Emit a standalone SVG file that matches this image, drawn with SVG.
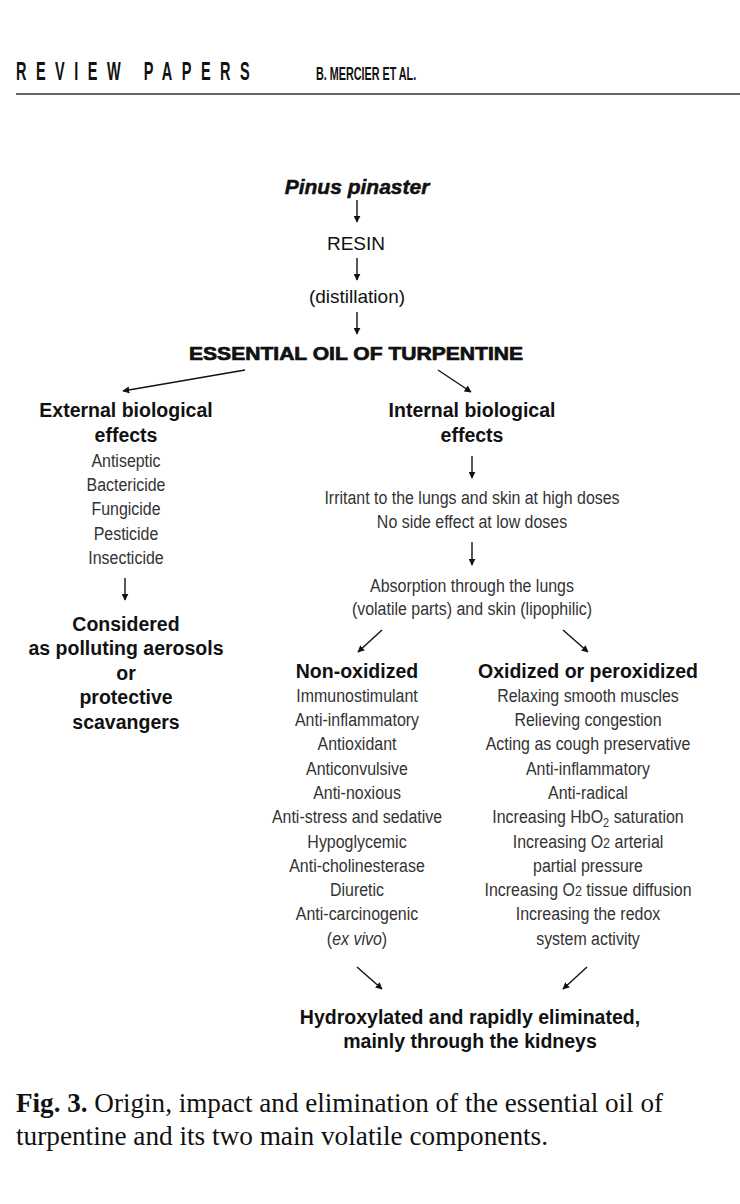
<svg xmlns="http://www.w3.org/2000/svg" width="740" height="1204" viewBox="0 0 740 1204">
<style>
.hdr{font-family:"Liberation Sans",Arial,sans-serif;font-weight:bold;fill:#111}
.t{font-family:"Liberation Sans",Arial,sans-serif;fill:#111;text-anchor:middle}
.b{font-weight:bold;font-size:19.5px}
.l{font-family:"Liberation Sans",Arial,sans-serif;font-size:19px;fill:#333;text-anchor:middle}
.cap{font-family:"Liberation Serif","Times New Roman",serif;font-size:28px;fill:#111}
.c{stroke:#111;stroke-width:1.4;fill:none;marker-end:url(#ah)}
</style>
<defs>
<marker id="ah" viewBox="0 0 10 10" refX="9" refY="5" markerWidth="7" markerHeight="7" orient="auto" markerUnits="userSpaceOnUse">
<path d="M0,0 L10,5 L0,10 z" fill="#111"/>
</marker>
</defs>
<rect width="740" height="1204" fill="#fff"/>
<g id="header">
<g transform="translate(16 0) scale(0.58 1)"><text class="hdr" x="0" y="80" font-size="25" textLength="403" lengthAdjust="spacing">REVIEW PAPERS</text></g>
<g transform="translate(316 0) scale(0.6 1)"><text class="hdr" x="0" y="80" font-size="19" textLength="167" lengthAdjust="spacingAndGlyphs">B. MERCIER ET AL.</text></g>
<line x1="16" y1="94" x2="740" y2="94" stroke="#333" stroke-width="1.5"/>
</g>
<g id="connectors">
<line class="c" x1="357" y1="200" x2="357" y2="222"/>
<line class="c" x1="357" y1="258" x2="357" y2="280"/>
<line class="c" x1="357" y1="312" x2="357" y2="334"/>
<line class="c" x1="245" y1="370" x2="123" y2="391"/>
<line class="c" x1="438" y1="370" x2="471" y2="392"/>
<line class="c" x1="125" y1="578" x2="125" y2="600"/>
<line class="c" x1="472" y1="456" x2="472" y2="478"/>
<line class="c" x1="472" y1="542" x2="472" y2="565"/>
<line class="c" x1="382" y1="630" x2="358" y2="652"/>
<line class="c" x1="563" y1="630" x2="588" y2="652"/>
<line class="c" x1="357" y1="967" x2="382" y2="989"/>
<line class="c" x1="587" y1="967" x2="563" y2="989"/>
</g>
<g id="pinus"><text class="t" x="357" y="194" font-size="21" font-weight="bold" font-style="italic" stroke="#111" stroke-width="0.5">Pinus pinaster</text></g>
<g id="resin"><text class="t" x="356" y="250" font-size="19">RESIN</text></g>
<g id="distillation"><text class="t" x="357" y="303" font-size="19">(distillation)</text></g>
<g id="oil"><text class="t" x="356" y="360" font-size="19" font-weight="bold" stroke="#111" stroke-width="0.7" textLength="334" lengthAdjust="spacingAndGlyphs">ESSENTIAL OIL OF TURPENTINE</text></g>
<g id="external">
<text class="t b" x="126" y="417">External biological</text>
<text class="t b" x="126" y="442">effects</text>
<g transform="translate(126 0) scale(0.84 1)">
<text class="l" x="0" y="467">Antiseptic</text>
<text class="l" x="0" y="491">Bactericide</text>
<text class="l" x="0" y="515">Fungicide</text>
<text class="l" x="0" y="540">Pesticide</text>
<text class="l" x="0" y="564">Insecticide</text>
</g>
</g>
<g id="considered">
<text class="t b" x="126" y="631">Considered</text>
<text class="t b" x="126" y="655">as polluting aerosols</text>
<text class="t b" x="126" y="680">or</text>
<text class="t b" x="126" y="704">protective</text>
<text class="t b" x="126" y="729">scavangers</text>
</g>
<g id="internal">
<text class="t b" x="472" y="417">Internal biological</text>
<text class="t b" x="472" y="442">effects</text>
</g>
<g id="irritant" transform="translate(472 0) scale(0.84 1)">
<text class="l" x="0" y="504">Irritant to the lungs and skin at high doses</text>
<text class="l" x="0" y="528">No side effect at low doses</text>
</g>
<g id="absorption" transform="translate(472 0) scale(0.84 1)">
<text class="l" x="0" y="592">Absorption through the lungs</text>
<text class="l" x="0" y="615">(volatile parts) and skin (lipophilic)</text>
</g>
<g id="nonoxidized">
<text class="t b" x="357" y="678">Non-oxidized</text>
<g transform="translate(357 0) scale(0.84 1)">
<text class="l" x="0" y="702">Immunostimulant</text>
<text class="l" x="0" y="726">Anti-inflammatory</text>
<text class="l" x="0" y="750">Antioxidant</text>
<text class="l" x="0" y="775">Anticonvulsive</text>
<text class="l" x="0" y="799">Anti-noxious</text>
<text class="l" x="0" y="823">Anti-stress and sedative</text>
<text class="l" x="0" y="848">Hypoglycemic</text>
<text class="l" x="0" y="872">Anti-cholinesterase</text>
<text class="l" x="0" y="896">Diuretic</text>
<text class="l" x="0" y="920">Anti-carcinogenic</text>
<text class="l" x="0" y="945">(<tspan font-style="italic">ex vivo</tspan>)</text>
</g>
</g>
<g id="oxidized">
<text class="t b" x="588" y="678">Oxidized or peroxidized</text>
<g transform="translate(588 0) scale(0.84 1)">
<text class="l" x="0" y="702">Relaxing smooth muscles</text>
<text class="l" x="0" y="726">Relieving congestion</text>
<text class="l" x="0" y="750">Acting as cough preservative</text>
<text class="l" x="0" y="775">Anti-inflammatory</text>
<text class="l" x="0" y="799">Anti-radical</text>
<text class="l" x="0" y="823">Increasing HbO<tspan font-size="13" dy="4">2</tspan><tspan dy="-4"> saturation</tspan></text>
<text class="l" x="0" y="848">Increasing O<tspan font-size="15">2</tspan> arterial</text>
<text class="l" x="0" y="872">partial pressure</text>
<text class="l" x="0" y="896">Increasing O<tspan font-size="15">2</tspan> tissue diffusion</text>
<text class="l" x="0" y="920">Increasing the redox</text>
<text class="l" x="0" y="945">system activity</text>
</g>
</g>
<g id="eliminated">
<text class="t" x="470" y="1024" font-size="19.5" font-weight="bold">Hydroxylated and rapidly eliminated,</text>
<text class="t" x="470" y="1048" font-size="19.5" font-weight="bold">mainly through the kidneys</text>
</g>
<g id="caption">
<text class="cap" x="16" y="1112" textLength="647" lengthAdjust="spacingAndGlyphs"><tspan font-weight="bold">Fig. 3.</tspan> Origin, impact and elimination of the essential oil of</text>
<text class="cap" x="16" y="1145" textLength="532" lengthAdjust="spacingAndGlyphs">turpentine and its two main volatile components.</text>
</g>
</svg>
